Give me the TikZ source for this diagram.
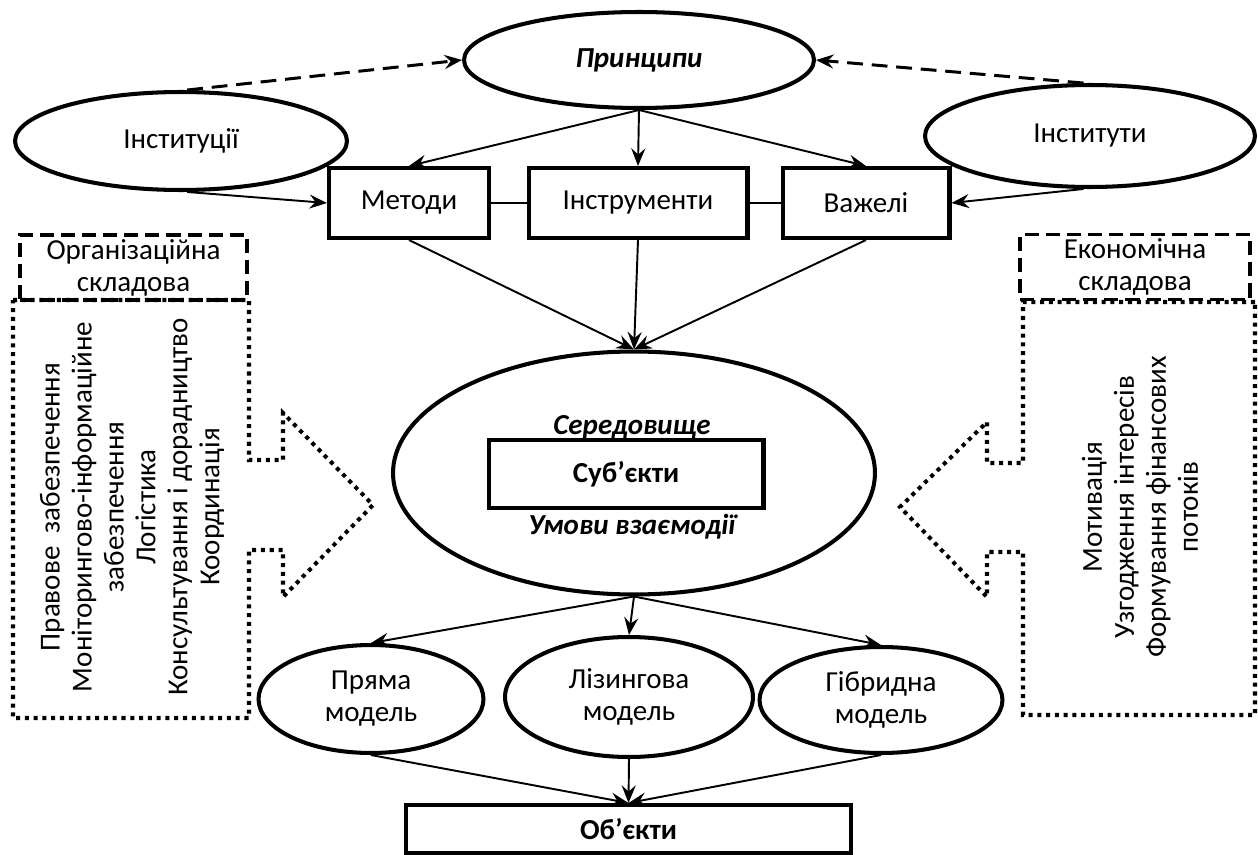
\documentclass[tikz,border=0pt]{standalone}
\usepackage{fontspec}
\setmainfont{Carlito}
\usetikzlibrary{shapes.geometric,arrows.meta}

\begin{document}
\begin{tikzpicture}[x=0.02cm, y=-0.02cm, font=\fontsize{16.5pt}{18.2pt}\selectfont,
  oval/.style={ellipse, draw, line width=2.3pt, inner sep=0pt, align=center},
  box/.style={rectangle, draw, line width=2.3pt, inner sep=0pt, align=center},
  arr/.style={-{Stealth[length=10pt, width=8pt, inset=3.5pt]}, line width=1.1pt},
  dsh/.style={arr, line width=1.7pt, dash pattern=on 9pt off 5pt},
  dashbox/.style={draw, line width=2.2pt, dash pattern=on 8pt off 4pt, inner sep=0pt, align=center, minimum height=1.3cm},
  dotline/.style={line width=2.3pt, dash pattern=on 2.3pt off 2.7pt}]
\useasboundingbox (0,0) rectangle (1258,855);
% top row
\node[oval, minimum width=7cm, minimum height=1.92cm] (prin) at (639,60) {\bfseries\itshape Принципи};
\node[oval, minimum width=6.64cm, minimum height=1.96cm] (instc) at (181,141) {Інституції};
\node[oval, minimum width=6.6cm, minimum height=2.04cm] (insty) at (1090,136) {Інститути};
% boxes
\node[box, minimum width=3.2cm, minimum height=1.4cm] (metody) at (409,203) {Методи};
\node[box, minimum width=4.38cm, minimum height=1.4cm] (instr) at (638,203) {Інструменти};
\node[box, minimum width=3.34cm, minimum height=1.4cm] (vazh) at (866,203) {Важелі};
\draw[line width=1.6pt] (metody) -- (instr); \draw[line width=1.6pt] (instr) -- (vazh);
\draw[dsh] (instc.83) -- (prin.west); \draw[dsh] (insty.97) -- (prin.east);
\draw[arr] (prin.south) -- (metody.north); \draw[arr] (prin.south) -- (instr.north); \draw[arr] (prin.south) -- (vazh.north);
\draw[arr] (instc.-83) -- (metody.west); \draw[arr] (insty.-97) -- (vazh.east);
% centre
\node[oval, minimum width=9.64cm, minimum height=4.86cm] (sered) at (634,473) {};
\node[box, minimum width=5.5cm, minimum height=1.36cm] (subj) at (626,474) {\bfseries Суб’єкти};
\node (seredtxt) at (632,427) {\bfseries\itshape Середовище};
\node (umovy) at (632,527) {\bfseries\itshape Умови взаємодії};
\draw[arr] (metody.south) -- (sered.north); \draw[arr] (instr.south) -- (sered.north); \draw[arr] (vazh.south) -- (sered.north);
% models
\node[oval, minimum width=4.5cm, minimum height=2.16cm] (pryama) at (371,699) {Пряма\\модель};
\node[oval, minimum width=4.96cm, minimum height=2.4cm] (lizyn) at (629,697) {Лізингова\\модель};
\node[oval, minimum width=4.86cm, minimum height=2.12cm] (hibr) at (881,700) {Гібридна\\модель};
\node[box, minimum width=8.9cm, minimum height=0.96cm] (obj) at (628.5,829) {\bfseries Об’єкти};
\draw[arr] (sered.south) -- (pryama.north); \draw[arr] (sered.south) -- (lizyn.north); \draw[arr] (sered.south) -- (hibr.north);
\draw[arr] (pryama.south) -- (obj.north); \draw[arr] (lizyn.south) -- (obj.north); \draw[arr] (hibr.south) -- (obj.north);
% side parts
\draw[dotline] (13,300) -- (249,300) -- (249,460) -- (283,460) -- (283,413) -- (373,505) -- (283,597) -- (283,550) -- (249,550) -- (249,718) -- (13,718) -- cycle;
\draw[dotline] (1255,302) -- (1023,302) -- (1023,463) -- (987,463) -- (987,422) -- (900,507) -- (987,597) -- (987,552) -- (1023,552) -- (1023,715) -- (1255,715) -- cycle;
\node[dashbox, minimum width=4.54cm] (orgbox) at (133.5,267.5) {Організаційна\\складова};
\node[dashbox, minimum width=4.6cm] (ekbox) at (1135,267) {Економічна\\складова};
\node[rotate=90, align=center] (orgtxt) at (132,507) {Правове \ забезпечення\\Моніторингово-інформаційне\\забезпечення\\Логістика\\Консультування і дорадництво\\Координація};
\node[rotate=90, align=center] (ektxt) at (1140,507) {Мотивація\\Узгодження інтересів\\Формування фінансових\\потоків};
\end{tikzpicture}
\end{document}
